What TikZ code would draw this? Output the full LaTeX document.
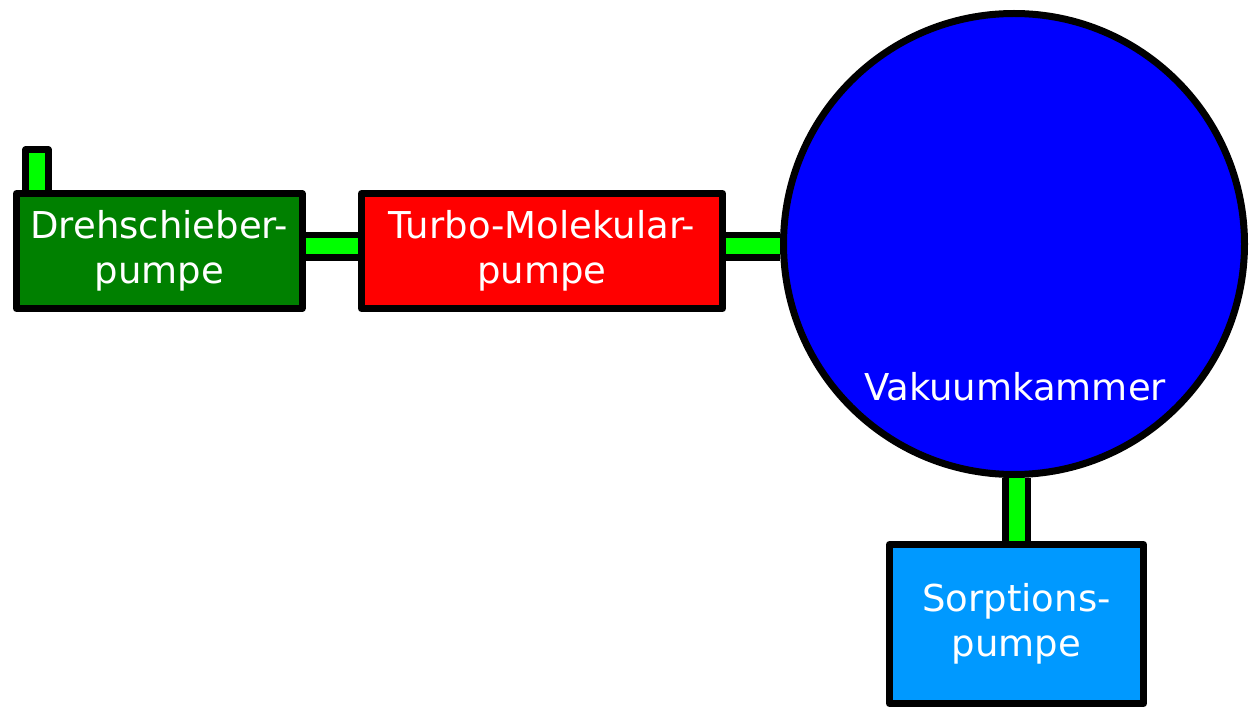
\documentclass[tikz,border=0pt]{standalone}
\usepackage{fontspec}
\setmainfont{DejaVu Sans}
\usetikzlibrary{backgrounds}
\definecolor{dsgreen}{HTML}{008000}
\definecolor{turbored}{HTML}{FF0000}
\definecolor{kammerblue}{HTML}{0000FF}
\definecolor{sorpblue}{HTML}{0099FF}
\definecolor{pipegreen}{HTML}{00FF00}
\tikzset{
  pumpbox/.style={draw=black, line width=7pt, line join=round, rectangle, inner sep=0pt,
    text=white, align=center, font=\fontsize{37}{45}\selectfont},
  pipe/.style={draw=black, line width=6.75pt, double=pipegreen, double distance=16pt},
  label/.style={text=white, font=\fontsize{37}{45}\selectfont, inner sep=0pt},
}
\begin{document}
\begin{tikzpicture}[x=1pt,y=-1pt]
\useasboundingbox (0,0) rectangle (1253,708);
\node[pumpbox, fill=dsgreen, minimum width=285.5pt, minimum height=115pt] (dreh) at (159.25,251) {Drehschieber-\\pumpe};
\node[pumpbox, fill=turbored, minimum width=361pt, minimum height=115pt] (turbo) at (542,251) {Turbo-Molekular-\\pumpe};
\node[draw=black, line width=7pt, circle, fill=kammerblue, minimum size=461pt, inner sep=0pt] (kammer) at (1014,244) {};
\node[label, anchor=base] (kammertext) at (1015,401) {Vakuumkammer};
\node[pumpbox, fill=sorpblue, minimum width=254pt, minimum height=159pt] (sorp) at (1016.5,624) {Sorptions-\\pumpe};
\coordinate (pipeline) at (0,246.5);
\begin{pgfonlayer}{background}
\node[draw=black, line width=7pt, line join=round, fill=pipegreen, minimum width=23pt, minimum height=55pt, inner sep=0pt, anchor=north] (auspuff) at (37,146.5) {};
\draw[pipe] (dreh.east |- pipeline) -- (turbo.west |- pipeline);
\draw[pipe] (turbo.east |- pipeline) -- (kammer.west |- pipeline);
\draw[pipe] (kammer.south -| sorp.north) -- (sorp.north);
\end{pgfonlayer}
\end{tikzpicture}
\end{document}
